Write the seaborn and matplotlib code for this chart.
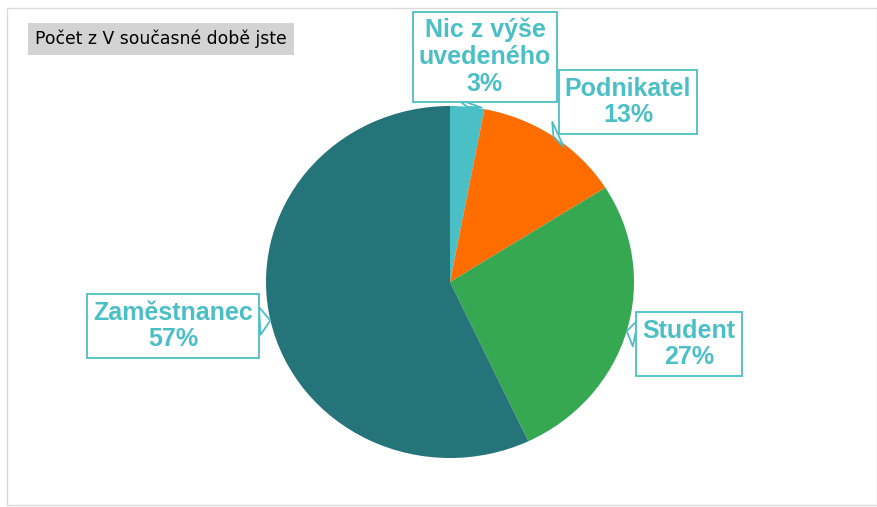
import numpy as np
import matplotlib
matplotlib.use("Agg")
import matplotlib.pyplot as plt
import seaborn as sns
from matplotlib.patches import Rectangle

# data
categories = ["Nic z výše\nuvedeného", "Podnikatel", "Student", "Zaměstnanec"]
shares = [3, 13, 27, 57]
colors = ["#4BBFC6", "#FF6D00", "#36A852", "#25747A"]
# label box centres (pixels, from top-left)
label_pos = [(485, 57), (628, 102), (689, 344), (173, 326)]

title = "Počet z V současné době jste"
label_col = "#4BBFC6"

sns.set_theme(style="white")
plt.rcParams["font.family"] = ["Liberation Sans", "DejaVu Sans"]

W, H = 878, 507
fig = plt.figure(figsize=(W / 100, H / 100), dpi=100)

# pie (slightly elliptical like the source)
pl, pr, pt, pb = 266, 634, 106, 458
axp = fig.add_axes([pl / W, 1 - pb / H, (pr - pl) / W, (pb - pt) / H])
wedges, _ = axp.pie(shares, colors=colors, startangle=90, counterclock=False,
                    wedgeprops=dict(linewidth=0))
axp.set_aspect("auto")
axp.set_xlim(-1, 1)
axp.set_ylim(-1, 1)
axp.axis("off")

# overlay in pixel coords
ax = fig.add_axes([0, 0, 1, 1])
ax.set_xlim(0, W)
ax.set_ylim(H, 0)
ax.axis("off")
ax.patch.set_alpha(0)

ax.add_patch(Rectangle((7, 8), W - 8, H - 10, fill=False, ec="#D9D9D9", lw=1))

ax.text(35, 39, title, fontsize=12.4, family="DejaVu Sans", color="black", va="center",
        bbox=dict(boxstyle="square,pad=0.4", fc="#D3D3D3", ec="none"))

cx, cy = (pl + pr) / 2, (pt + pb) / 2
rx, ry = (pr - pl) / 2, (pb - pt) / 2
cum = np.cumsum([0] + shares)
for i, (lab, v) in enumerate(zip(categories, shares)):
    mid = 90 - 360 * (cum[i] + v / 2) / 100
    tip = (cx + rx * np.cos(np.radians(mid)), cy - ry * np.sin(np.radians(mid)))
    ax.annotate(f"{lab}\n{v}%", xy=tip, xytext=label_pos[i], ha="center", va="center",
                fontsize=18, fontweight="bold", color=label_col, linespacing=1.15,
                bbox=dict(boxstyle="square,pad=0.25", fc="white", ec=label_col, lw=1.3),
                arrowprops=dict(arrowstyle="wedge,tail_width=1.1", fc="white", ec=label_col,
                                lw=1.3, shrinkA=0, shrinkB=0))

fig.savefig("out.png", dpi=100)
